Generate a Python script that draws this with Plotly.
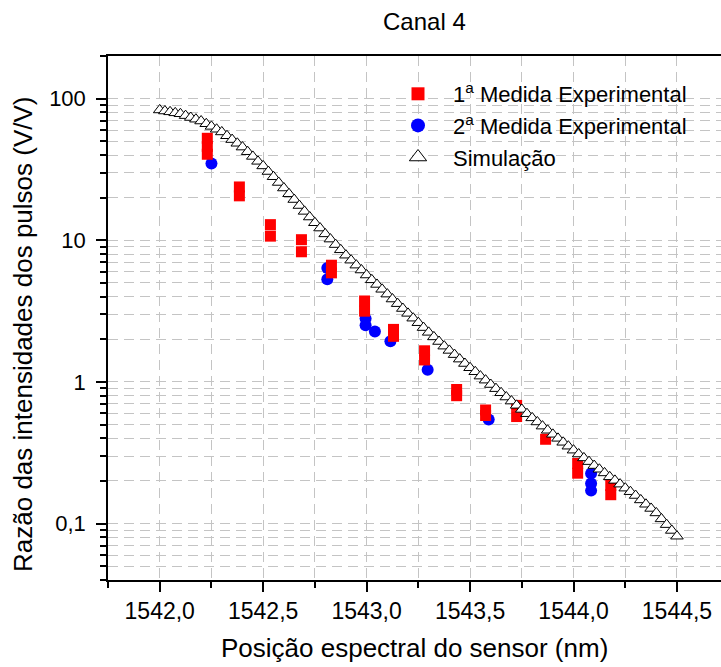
import plotly.graph_objects as go

# ---------------- data ----------------
red_x = [1542.23, 1542.23, 1542.23, 1542.385, 1542.385, 1542.535, 1542.535,
         1542.685, 1542.685, 1542.83, 1542.83, 1542.99, 1542.99, 1543.13, 1543.13,
         1543.28, 1543.28, 1543.435, 1543.435, 1543.575, 1543.575, 1543.725, 1543.725,
         1543.865, 1544.02, 1544.02, 1544.18, 1544.18]
red_y = [52.5, 46.0, 40.5, 23.8, 20.6, 12.9, 10.7,
         10.1, 8.3, 6.67, 5.89, 3.73, 3.16, 2.35, 2.10,
         1.66, 1.43, 0.885, 0.80, 0.634, 0.58, 0.683, 0.57,
         0.394, 0.266, 0.227, 0.186, 0.160]

blue_x = [1542.25, 1542.81, 1542.81, 1542.995, 1542.995, 1543.04, 1543.115,
          1543.295, 1543.59, 1544.085, 1544.085, 1544.085]
blue_y = [34.9, 6.38, 5.30, 2.80, 2.51, 2.27, 1.94,
          1.22, 0.543, 0.226, 0.192, 0.171]

sim_x = [1542.000, 1542.025, 1542.050, 1542.075, 1542.100, 1542.125, 1542.150, 1542.175, 1542.200, 1542.225,
         1542.250, 1542.275, 1542.300, 1542.325, 1542.350, 1542.375, 1542.400, 1542.425, 1542.450, 1542.475,
         1542.500, 1542.525, 1542.550, 1542.575, 1542.600, 1542.625, 1542.650, 1542.675, 1542.700, 1542.725,
         1542.750, 1542.775, 1542.800, 1542.825, 1542.850, 1542.875, 1542.900, 1542.925, 1542.950, 1542.975,
         1543.000, 1543.025, 1543.050, 1543.075, 1543.100, 1543.125, 1543.150, 1543.175, 1543.200, 1543.225,
         1543.250, 1543.275, 1543.300, 1543.325, 1543.350, 1543.375, 1543.400, 1543.425, 1543.450, 1543.475,
         1543.500, 1543.525, 1543.550, 1543.575, 1543.600, 1543.625, 1543.650, 1543.675, 1543.700, 1543.725,
         1543.750, 1543.775, 1543.800, 1543.825, 1543.850, 1543.875, 1543.900, 1543.925, 1543.950, 1543.975,
         1544.000, 1544.025, 1544.050, 1544.075, 1544.100, 1544.125, 1544.150, 1544.175, 1544.200, 1544.225,
         1544.250, 1544.275, 1544.300, 1544.325, 1544.350, 1544.375, 1544.400, 1544.425, 1544.450, 1544.475,
         1544.500]
sim_y = [83.2, 81.8, 80.7, 79.4, 78.2, 75.9, 73.6, 71.6, 69.5, 66.5,
         63.7, 60.8, 58.2, 54.7, 51.4, 48.4, 45.5, 42.2, 39.1, 36.1,
         33.5, 30.6, 28.1, 25.6, 23.4, 21.3, 19.4, 17.6, 16.0, 14.6,
         13.3, 12.2, 11.1, 10.2, 9.33, 8.57, 7.85, 7.24, 6.68, 6.17,
         5.69, 5.26, 4.88, 4.51, 4.17, 3.85, 3.57, 3.30, 3.05, 2.82,
         2.62, 2.42, 2.24, 2.08, 1.93, 1.79, 1.67, 1.56, 1.45, 1.35,
         1.26, 1.18, 1.10, 1.03, 0.959, 0.897, 0.839, 0.783, 0.733, 0.684,
         0.640, 0.597, 0.558, 0.522, 0.488, 0.456, 0.427, 0.400, 0.375, 0.352,
         0.330, 0.310, 0.291, 0.274, 0.257, 0.242, 0.228, 0.214, 0.202, 0.190,
         0.178, 0.168, 0.158, 0.147, 0.137, 0.128, 0.119, 0.108, 0.0984, 0.0895,
         0.0815]

x_ticks = [1542.0, 1542.5, 1543.0, 1543.5, 1544.0, 1544.5]
y_ticks = [0.1, 1, 10, 100]
y_tick_labels = ["0,1", "1", "10", "100"]
y_minor_ticks = [0.04, 0.05, 0.06, 0.07, 0.08, 0.09,
                 0.2, 0.3, 0.4, 0.5, 0.6, 0.7, 0.8, 0.9,
                 2, 3, 4, 5, 6, 7, 8, 9,
                 20, 30, 40, 50, 60, 70, 80, 90, 200]

names = ["1<sup>a</sup> Medida Experimental", "2<sup>a</sup> Medida Experimental", "Simulação"]

FONT = "Liberation Sans, Arial, sans-serif"
GRID = "#c4c4c4"
DASH = "10px,6px"

red_marker = dict(symbol="square", size=11, color="#ff0000", line=dict(width=0))
blue_marker = dict(symbol="circle", size=12, color="#0000ff", line=dict(width=0))
sim_marker = dict(symbol="triangle-up", size=11, color="white",
                  line=dict(width=1, color="black"))

fig = go.Figure()
# data traces (drawing order: blue, red, simulation on top)
fig.add_trace(go.Scatter(x=blue_x, y=blue_y, mode="markers", name=names[1],
                         showlegend=False, marker=blue_marker))
fig.add_trace(go.Scatter(x=red_x, y=red_y, mode="markers", name=names[0],
                         showlegend=False, marker=red_marker))
fig.add_trace(go.Scatter(x=sim_x, y=sim_y, mode="markers", name=names[2],
                         showlegend=False, marker=sim_marker))
# legend entries (slightly larger symbols, as in the reference legend)
fig.add_trace(go.Scatter(x=[None], y=[None], mode="markers", name=names[0],
                         marker=dict(red_marker, size=13)))
fig.add_trace(go.Scatter(x=[None], y=[None], mode="markers", name=names[1],
                         marker=dict(blue_marker, size=14)))
fig.add_trace(go.Scatter(x=[None], y=[None], mode="markers", name=names[2],
                         marker=dict(sim_marker, size=15)))

L, R, T, B = 108, 0, 56, 87
W, H = 721, 667
pw, ph = W - L - R, H - T - B


def px2x(px):
    return (px - L) / pw


def py2y(py):
    return (H - B - py) / ph


fig.update_layout(
    width=W, height=H,
    margin=dict(l=L, r=R, t=T, b=B, pad=0),
    paper_bgcolor="white", plot_bgcolor="white",
    separators=",.",
    font=dict(family=FONT, size=22, color="black"),
    showlegend=True,
    legend=dict(x=px2x(383), xanchor="left", y=py2y(73), yanchor="top",
                bgcolor="rgba(255,255,255,0)", borderwidth=0,
                font=dict(family=FONT, size=22, color="black"),
                itemwidth=60, traceorder="normal"),
    xaxis=dict(range=[1541.75, 1541.75 + pw / 206.9], tickmode="array",
               tickvals=x_ticks, tickformat=".1f",
               ticks="outside", ticklen=10, tickwidth=1.5, tickcolor="black",
               showline=True, linecolor="black", linewidth=1.5, mirror=True,
               showgrid=True, gridcolor=GRID, gridwidth=1, griddash=DASH,
               zeroline=False, tickfont=dict(size=23),
               minor=dict(dtick=0.25, tick0=1541.75, ticks="outside", ticklen=6,
                          tickwidth=1.5, tickcolor="black", showgrid=True,
                          gridcolor=GRID, gridwidth=1, griddash=DASH)),
    yaxis=dict(type="log", range=[-1.39794, 2.30103], tickmode="array",
               tickvals=y_ticks, ticktext=y_tick_labels,
               ticks="outside", ticklen=10, tickwidth=1.5, tickcolor="black",
               showline=True, linecolor="black", linewidth=1.5, mirror=False,
               showgrid=True, gridcolor=GRID, gridwidth=1, griddash=DASH,
               zeroline=False, tickfont=dict(size=22), ticklabelstandoff=6,
               minor=dict(tickmode="array", tickvals=y_minor_ticks, ticks="outside",
                          ticklen=6, tickwidth=1.5, tickcolor="black", showgrid=True,
                          gridcolor=GRID, gridwidth=1, griddash=DASH)),
    shapes=[dict(type="rect", xref="paper", yref="paper", layer="between",
                 x0=px2x(352), x1=1.0, y0=py2y(180), y1=py2y(59),
                 fillcolor="white", line=dict(width=0))],
    annotations=[
        dict(text="Canal 4", xref="paper", yref="paper", x=px2x(424), y=py2y(22),
             xanchor="center", yanchor="middle", showarrow=False,
             font=dict(family=FONT, size=24, color="black")),
        dict(text="Posição espectral do sensor (nm)", xref="paper", yref="paper",
             x=px2x(414), y=py2y(648), xanchor="center", yanchor="middle",
             showarrow=False, font=dict(family=FONT, size=26, color="black")),
        dict(text="Razão das intensidades dos pulsos (V/V)", xref="paper", yref="paper",
             x=px2x(23), y=py2y(334), xanchor="center", yanchor="middle",
             textangle=-90, showarrow=False,
             font=dict(family=FONT, size=26, color="black")),
    ],
)

fig.write_html("out.html")
